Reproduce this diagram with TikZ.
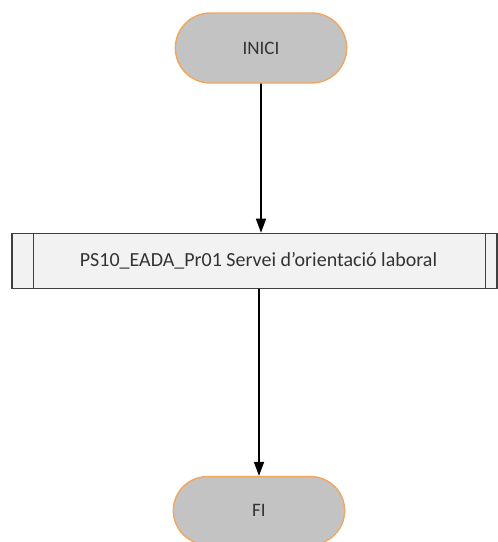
\documentclass[tikz,border=0pt]{standalone}
\usepackage{fontspec}
\setmainfont{Carlito}
\usepackage{xcolor}
\definecolor{termfill}{HTML}{C3C3C3}
\definecolor{termline}{HTML}{F2A65E}
\definecolor{procfill}{HTML}{F2F2F2}
\definecolor{procline}{HTML}{404040}
\usetikzlibrary{positioning,shapes.misc,arrows.meta}

\begin{document}
\begin{tikzpicture}[
  x=1pt, y=-1pt,
  node distance=0pt,
  term/.style={rounded rectangle, draw=termline, fill=termfill, line width=1.4pt,
               minimum width=178pt, minimum height=70pt,
               font=\fontsize{19}{22}\selectfont, text=black!80},
  proc/.style={rectangle, draw=procline, fill=procfill, line width=1.2pt,
               minimum width=485pt, minimum height=55pt},
  lbl/.style={font=\fontsize{20}{23}\selectfont, text=black!80},
  arr/.style={-{Triangle[width=10pt,length=14pt]}, line width=1.6pt}
]
  \useasboundingbox (0,0) rectangle (498,542);
  \node[term] (inici) at (261,48) {INICI};
  \node[proc, below=149pt of inici.south, anchor=north, xshift=-6.5pt] (servei) {};
  \node[lbl] (txt) at ([xshift=4pt]servei.center) {PS10\_EADA\_Pr01 Servei d’orientació laboral};
  \draw[procline, line width=1.2pt] ([xshift=22pt]servei.north west) -- ([xshift=22pt]servei.south west);
  \draw[procline, line width=1.2pt] ([xshift=-12pt]servei.north east) -- ([xshift=-12pt]servei.south east);
  \node[term, minimum height=68pt, below=187pt of servei.south, anchor=north, xshift=4.5pt] (fi) {FI};
  \draw[arr] (inici) -- (servei.north -| inici);
  \draw[arr] (servei.south -| fi) -- (fi);
\end{tikzpicture}
\end{document}
